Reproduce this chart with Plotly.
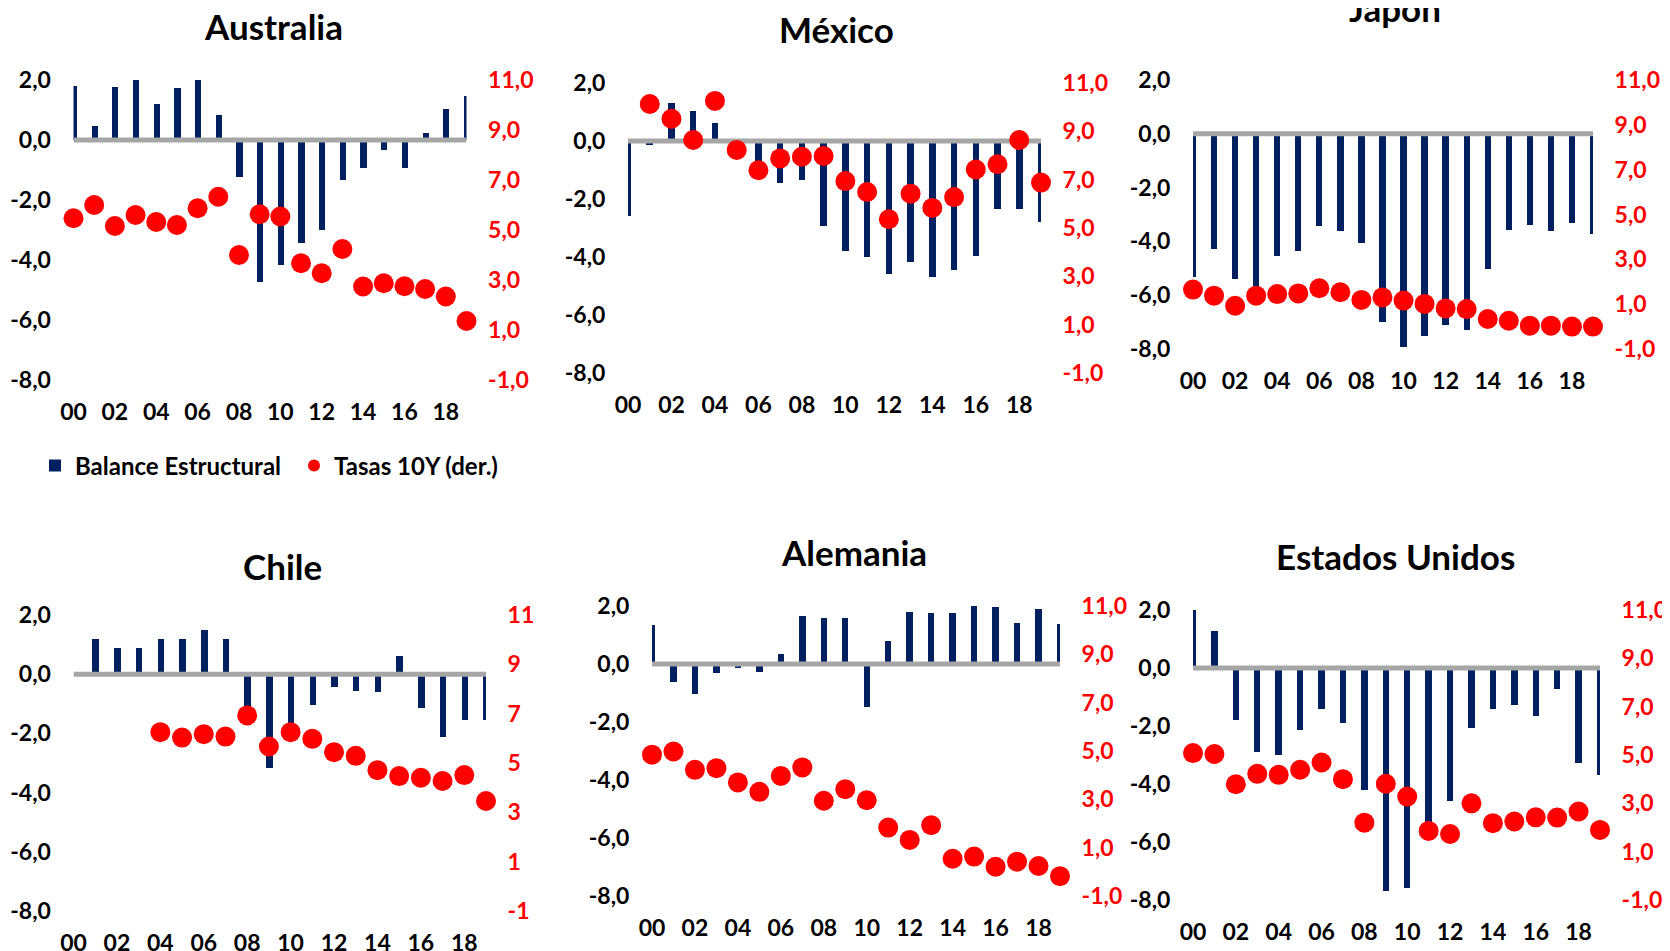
import plotly.graph_objects as go

# ---------------- data ----------------
years = ["00", "01", "02", "03", "04", "05", "06", "07", "08", "09",
         "10", "11", "12", "13", "14", "15", "16", "17", "18", "19"]

aus_balance = [1.8, 0.47, 1.78, 2.0, 1.19, 1.72, 2.0, 0.83, -1.22, -4.72,
               -4.17, -3.44, -3.0, -1.33, -0.94, -0.33, -0.94, 0.22, 1.02, 1.47]
aus_rate = [5.47, 6.0, 5.16, 5.6, 5.32, 5.2, 5.87, 6.33, 4.0, 5.63,
            5.54, 3.67, 3.27, 4.24, 2.74, 2.87, 2.75, 2.64, 2.34, 1.36]

mex_balance = [-2.6, -0.15, 1.31, 1.02, 0.62, -0.3, -1.0, -1.45, -1.33, -2.92,
               -3.8, -4.01, -4.57, -4.18, -4.7, -4.44, -3.95, -2.34, -2.34, -2.8]
mex_rate = [None, 10.13, 9.52, 8.64, 10.26, 8.23, 7.39, 7.88, 7.95, 7.98,
            6.94, 6.49, 5.36, 6.42, 5.83, 6.28, 7.42, 7.64, 8.64, 6.88]

jap_balance = [-5.33, -4.27, -5.39, -6.0, -4.55, -4.36, -3.44, -3.61, -4.05, -7.0,
               -7.94, -7.5, -7.1, -7.29, -5.04, -3.59, -3.38, -3.63, -3.32, -3.74]
jap_rate = [1.65, 1.38, 0.93, 1.38, 1.45, 1.48, 1.71, 1.53, 1.19, 1.30,
            1.16, 1.01, 0.81, 0.78, 0.34, 0.26, 0.04, 0.04, 0.0, 0.0]

chl_balance = [None, 1.18, 0.87, 0.87, 1.18, 1.18, 1.49, 1.18, -1.3, -3.16,
               -1.9, -1.05, -0.44, -0.56, -0.6, 0.61, -1.15, -2.11, -1.54, -1.54]
chl_rate = [None, None, None, None, 6.25, 6.03, 6.17, 6.07, 6.93, 5.67,
            6.25, 5.98, 5.44, 5.29, 4.71, 4.47, 4.40, 4.27, 4.51, 3.46]

ale_balance = [1.35, -0.63, -1.05, -0.31, -0.13, -0.28, 0.33, 1.67, 1.59, 1.59,
               -1.47, 0.79, 1.81, 1.77, 1.77, 2.0, 1.96, 1.41, 1.91, 1.37]
ale_rate = [4.85, 4.98, 4.22, 4.29, 3.70, 3.31, 3.97, 4.32, 2.94, 3.42,
            2.96, 1.83, 1.32, 1.93, 0.54, 0.63, 0.21, 0.42, 0.24, -0.18]

usa_balance = [2.0, 1.27, -1.78, -2.9, -2.99, -2.15, -1.41, -1.9, -4.22, -7.68,
               -7.58, -5.5, -4.58, -2.07, -1.41, -1.26, -1.64, -0.72, -3.28, -3.68]
usa_rate = [5.08, 5.04, 3.79, 4.22, 4.18, 4.39, 4.69, 4.0, 2.2, 3.81,
            3.28, 1.86, 1.73, 3.0, 2.18, 2.25, 2.42, 2.41, 2.66, 1.90]

titles = ["Australia", "México", "Japón", "Chile", "Alemania", "Estados Unidos"]

left_ticks = [-8, -6, -4, -2, 0, 2]
left_ticklabels = ["-8,0", "-6,0", "-4,0", "-2,0", "0,0", "2,0"]
right_ticks = [-1, 1, 3, 5, 7, 9, 11]
right_ticklabels = ["-1,0", "1,0", "3,0", "5,0", "7,0", "9,0", "11,0"]
right_ticklabels_int = ["-1", "1", "3", "5", "7", "9", "11"]

legend_names = ["Balance Estructural", "Tasas 10Y (der.)"]

# ---------------- layout / styling ----------------
W, H = 1670, 951
OFF = 8            # page body margin compensation
NAVY = "#002060"
RED = "#FF0000"
GRAY = "#A6A6A6"
FONT = "Lato"
TICK = 23

# pixel boxes (page coords): x_left, x_right, y_top, y_bottom ; title centre
panels = [
    dict(bal=aus_balance, rate=aus_rate, box=(73.5, 466.5, 80, 380), tpos=(273, 26), rlab=right_ticklabels),
    dict(bal=mex_balance, rate=mex_rate, box=(628, 1041, 83, 373), tpos=(836, 29), rlab=right_ticklabels),
    dict(bal=jap_balance, rate=jap_rate, box=(1193, 1593, 80, 349), tpos=(1395, 8), rlab=right_ticklabels),
    dict(bal=chl_balance, rate=chl_rate, box=(73.5, 486, 615, 911), tpos=(282, 566), rlab=right_ticklabels_int),
    dict(bal=ale_balance, rate=ale_rate, box=(652, 1060, 606, 896), tpos=(854, 552), rlab=right_ticklabels),
    dict(bal=usa_balance, rate=usa_rate, box=(1193, 1600, 610, 900), tpos=(1395, 556), rlab=right_ticklabels),
]


def px(x):
    return (x - OFF) / W


def py(y):
    return 1 - (y - OFF) / H


fig = go.Figure()
layout = dict(
    width=W, height=H,
    margin=dict(l=0, r=0, t=0, b=0, pad=0, autoexpand=False),
    paper_bgcolor="white", plot_bgcolor="rgba(0,0,0,0)",
    font=dict(family=FONT, size=TICK, color="black"),
    showlegend=True,
    bargap=0,
    annotations=[],
)

for i, p in enumerate(panels):
    k = i + 1
    xa = "x" if k == 1 else f"x{k}"
    ya_l = f"y{2*k-1}" if k > 1 else "y"
    ya_r = f"y{2*k}"
    xl, xr, yt, yb = p["box"]
    dom_x = [px(xl), px(xr)]
    dom_y = [py(yb), py(yt)]

    fig.add_trace(go.Bar(
        x=years, y=p["bal"], xaxis=xa, yaxis=ya_l,
        marker=dict(color=NAVY, line=dict(width=0)),
        width=0.3, name=legend_names[0], showlegend=(k == 1),
        legendrank=1,
    ))
    # zero baseline of the category axis (drawn over the bars)
    fig.add_trace(go.Scatter(
        x=[years[0], years[-1]], y=[0, 0], xaxis=xa, yaxis=ya_l,
        mode="lines", line=dict(color=GRAY, width=5),
        showlegend=False, hoverinfo="skip", cliponaxis=False,
    ))
    fig.add_trace(go.Scatter(
        x=years, y=p["rate"], xaxis=xa, yaxis=ya_r,
        mode="markers", marker=dict(color=RED, size=20, line=dict(width=0)),
        name=legend_names[1], showlegend=(k == 1), cliponaxis=False,
        legendrank=2,
    ))

    xkey = "xaxis" if k == 1 else f"xaxis{k}"
    ylkey = "yaxis" if k == 1 else f"yaxis{2*k-1}"
    yrkey = f"yaxis{2*k}"
    common = dict(showgrid=False, zeroline=False, showline=False,
                  automargin=False, fixedrange=True,
                  ticks="outside", tickcolor="rgba(0,0,0,0)")
    layout[xkey] = dict(
        domain=dom_x, anchor=ya_l, type="category", range=[0, 19],
        tickmode="array", tickvals=years[0::2], ticktext=years[0::2],
        ticklen=11,
        tickfont=dict(family=FONT, size=TICK, color="black", weight="bold"),
        **common,
    )
    layout[ylkey] = dict(
        domain=dom_y, anchor=xa, range=[-8, 2],
        tickmode="array", tickvals=left_ticks, ticktext=left_ticklabels,
        ticklen=17,
        tickfont=dict(family=FONT, size=TICK, color="black", weight="bold"),
        **common,
    )
    layout[yrkey] = dict(
        overlaying=ya_l, side="right", anchor=xa, range=[-1, 11],
        tickmode="array", tickvals=right_ticks, ticktext=p["rlab"],
        ticklen=16,
        tickfont=dict(family=FONT, size=TICK, color=RED, weight="bold"),
        **common,
    )
    tx, ty = p["tpos"]
    layout["annotations"].append(dict(
        text=titles[i], x=px(tx), y=py(ty), xref="paper", yref="paper",
        xanchor="center", yanchor="middle", showarrow=False,
        font=dict(family=FONT, size=35, color="black", weight="bold"),
    ))

layout["legend"] = dict(
    orientation="h", x=px(35), y=py(466), xanchor="left", yanchor="middle",
    font=dict(family=FONT, size=24, color="black", weight="bold"),
    bgcolor="rgba(0,0,0,0)", itemsizing="constant", traceorder="normal",
    itemwidth=30, entrywidth=214, entrywidthmode="pixels",
)

fig.update_layout(**layout)
fig.write_html("out.html")
